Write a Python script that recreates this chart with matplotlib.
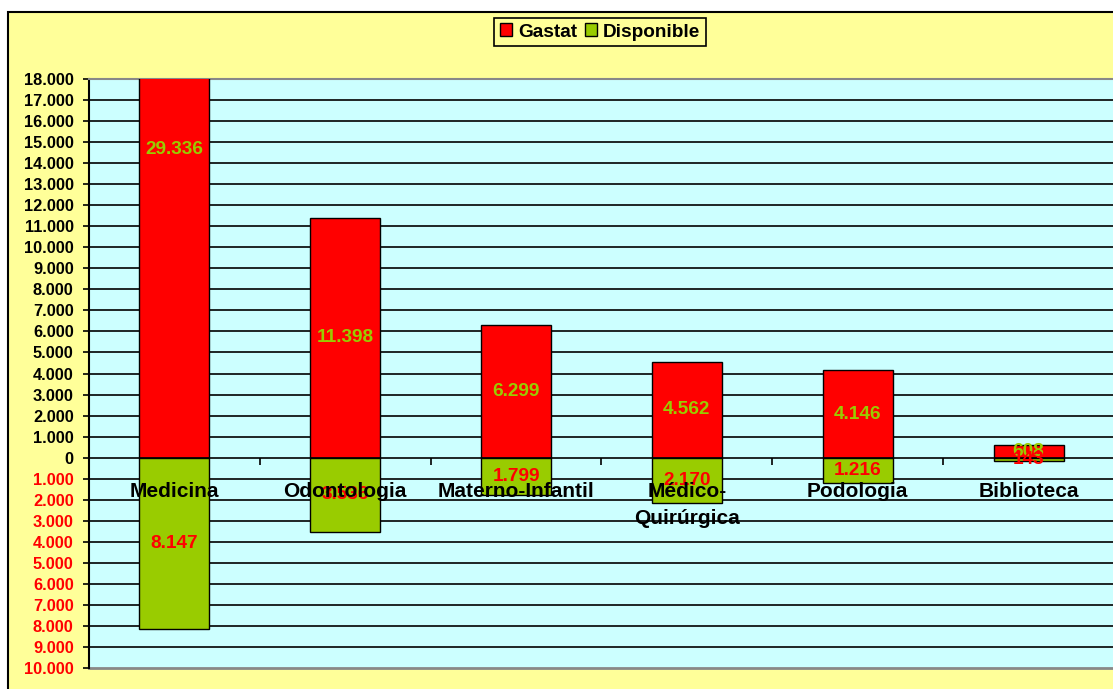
import matplotlib
matplotlib.use("Agg")
import matplotlib.pyplot as plt
from matplotlib.patches import Rectangle, Patch

categories = ["Medicina", "Odontologia", "Materno-Infantil", "Médico-\nQuirúrgica", "Podologia", "Biblioteca"]
gastat = [29336, 11398, 6299, 4562, 4146, 608]
disponible = [8147, 3536, 1799, 2170, 1216, 143]
yticks = list(range(-10000, 18001, 1000))

RED = "#FF0000"
GREEN = "#99CC00"
YELLOW = "#FFFF99"
CYAN = "#CCFFFF"

plt.rcParams['font.family'] = ['Liberation Sans', 'DejaVu Sans']

fig = plt.figure(figsize=(11.13, 6.89), dpi=100)
fig.patch.set_facecolor("white")
top = 1 - 12/689
bg = Rectangle((8/1113, -0.02), 1.05, top + 0.02,
               transform=fig.transFigure, facecolor=YELLOW,
               edgecolor="black", linewidth=1.5, zorder=-10)
fig.add_artist(bg)

ax = fig.add_axes([89/1113, 1 - 668/689, (1114 - 89)/1113, (668 - 79)/689])
ax.set_zorder(1)
ax.set_facecolor(CYAN)
ax.set_axisbelow(True)

x = list(range(len(categories)))
w = 0.41
ax.bar(x, gastat, width=w, color=RED, edgecolor="black", linewidth=1, zorder=3)
ax.bar(x, [-d for d in disponible], width=w, color=GREEN, edgecolor="black", linewidth=1, zorder=3)

for yv in yticks[1:-1]:
    if yv != 0:
        ax.axhline(yv, color="black", linewidth=1.2, zorder=1)

ax.set_ylim(-10000, 18000)
ax.set_xlim(-0.5, len(categories) - 0.5)

ax.set_yticks(yticks)
ax.set_yticklabels([f"{abs(v):,}".replace(",", ".") for v in yticks],
                   fontsize=11.8, fontweight="bold")
for lbl, v in zip(ax.get_yticklabels(), yticks):
    lbl.set_color(RED if v < 0 else "black")
ax.tick_params(axis="y", direction="out", length=4, width=1.2, pad=7)

ax.spines['bottom'].set_position(('data', 0))
ax.spines['bottom'].set_zorder(4)
ax.spines['bottom'].set_linewidth(1.2)
ax.set_xticks([i + 0.5 for i in range(len(categories) - 1)])
ax.set_xticklabels([])
ax.tick_params(axis="x", direction="out", length=5, width=1.2)
ax.spines['left'].set_linewidth(1.5)
ax.spines['top'].set_color("#888888")
ax.spines['top'].set_linewidth(1.5)
ax.spines['right'].set_visible(False)
ax.axhline(-10000, color="#888888", linewidth=2, zorder=2, clip_on=False)

for i, (g, d) in enumerate(zip(gastat, disponible)):
    ax.text(i, g / 2, f"{g:,}".replace(",", "."), ha="center", va="center",
            color=GREEN, fontsize=13.7, fontweight="bold", zorder=5)
    ax.text(i, -d / 2, f"{d:,}".replace(",", "."), ha="center", va="center",
            color=RED, fontsize=13.7, fontweight="bold", zorder=5)

for i, c in enumerate(categories):
    ax.text(i, -1150, c, ha="center", va="top", color="black",
            fontsize=15, fontweight="bold", linespacing=1.55, zorder=6)

handles = [Patch(facecolor=RED, edgecolor="black"), Patch(facecolor=GREEN, edgecolor="black")]
leg = fig.legend(handles, ["Gastat", "Disponible"], loc="center",
                 bbox_to_anchor=(600/1113, 1 - 32/689), ncol=2,
                 prop={"weight": "bold", "size": 13.7}, frameon=True,
                 fancybox=False, edgecolor="black", facecolor=YELLOW,
                 handlelength=0.65, handleheight=0.65, handletextpad=0.3,
                 columnspacing=0.4, borderpad=0.3, borderaxespad=0)
leg.get_frame().set_linewidth(1.2)
leg.get_frame().set_alpha(1)

fig.savefig("out.png", dpi=100)
